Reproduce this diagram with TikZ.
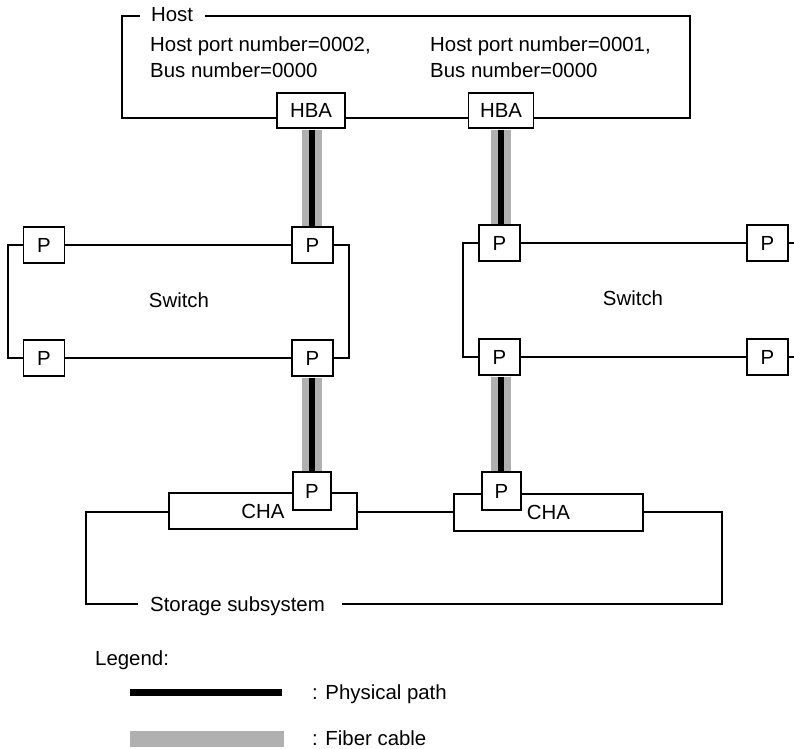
\documentclass[tikz,border=0pt]{standalone}
\usepackage{fontspec}
\setmainfont{Liberation Sans}
\definecolor{fiber}{RGB}{176,176,176}
\begin{document}
\begin{tikzpicture}[x=1pt,y=-1pt,
  txt/.style={font=\fontsize{20.4}{24}\selectfont, inner sep=0pt},
  frame/.style={line width=1.5pt},
  box/.style={draw, fill=white, line width=1.5pt, inner sep=0pt,
    font=\fontsize{20.4}{24}\selectfont},
  pbox/.style={box, minimum width=41pt, minimum height=36pt},
  fibre/.style={line width=20pt, draw=fiber},
  phys/.style={line width=6pt, draw=black}]
\useasboundingbox (0,0) rectangle (794,748);

% ---- Host ----
\node[txt] (host) at (172,15) {Host};
\node[txt, anchor=base west] (hp2) at (150,51) {Host port number=0002,};
\node[txt, anchor=base west] (bn2) at (150,77) {Bus number=0000};
\node[txt, anchor=base west] (hp1) at (430,51) {Host port number=0001,};
\node[txt, anchor=base west] (bn1) at (430,77) {Bus number=0000};
\coordinate (hA) at (311,118);
\coordinate (hB) at (501,118);
\draw[frame] (140,16) -- (122,16) -- (122,118) -- (hA) -- (hB)
  -- (690,118) -- (690,16) -- (205,16);
\node[box, minimum width=68pt, minimum height=35pt] (hba1) at (311,110.5) {HBA};
\node[box, minimum width=65pt, minimum height=35pt] (hba2) at (501,110.5) {HBA};

% ---- left switch ----
\node[pbox] (a1) at (44,245) {P};
\node[pbox] (a2) at (312.5,245) {P};
\node[pbox] (a3) at (44,358) {P};
\node[pbox] (a4) at (312.5,358) {P};
\draw[frame] (a1.west) -- (8,245) -- (8,358) -- (a3.west);
\draw[frame] (a1.east) -- (a2.west);
\draw[frame] (a3.east) -- (a4.west);
\draw[frame] (a2.east) -- (349,245) -- (349,358) -- (a4.east);
\node[txt] (sw1) at (179,300) {Switch};

% ---- right switch ----
\node[pbox] (b1) at (499.5,243) {P};
\node[pbox] (b2) at (767.5,243) {P};
\node[pbox] (b3) at (499.5,357) {P};
\node[pbox] (b4) at (767.5,357) {P};
\coordinate (e1) at (794,243);
\coordinate (e2) at (794,357);
\draw[frame] (b1.west) -- (463,243) -- (463,357) -- (b3.west);
\draw[frame] (b1.east) -- (b2.west);
\draw[frame] (b3.east) -- (b4.west);
\draw[frame] (b2.east) -- (e1);
\draw[frame] (b4.east) -- (e2);
\node[txt] (sw2) at (633,298) {Switch};

% ---- storage subsystem ----
\node[box, minimum width=188pt, minimum height=36pt] (cha1) at (263,511) {CHA};
\node[box, minimum width=189pt, minimum height=37pt] (cha2) at (548.5,512.5) {CHA};
\node[box, minimum width=38pt, minimum height=38pt] (c1) at (312,491) {P};
\node[box, minimum width=39pt, minimum height=38pt] (c2) at (501.5,491) {P};
\node[txt, anchor=base west] (stor) at (150,611) {Storage subsystem};
\coordinate (sl) at (138,604);
\coordinate (sr) at (342,604);
\draw[frame] (cha1.west |- 0,512) -- (86,512) -- (86,604) -- (sl);
\draw[frame] (cha1.east |- 0,512) -- (cha2.west |- 0,512);
\draw[frame] (cha2.east |- 0,512) -- (722,512) -- (722,604) -- (sr);

% ---- cables: fibre with the physical path along it ----
\draw[fibre] ([yshift=-0.75pt]hba1.south -| 311.5,0) -- ([yshift=0.75pt]a2.north -| 311.5,0);
\draw[phys]  ([yshift=-0.75pt]hba1.south -| 311.5,0) -- ([yshift=0.75pt]a2.north -| 311.5,0);
\draw[fibre] ([yshift=-0.75pt]a4.south -| 311.5,0) -- ([yshift=0.75pt]c1.north -| 311.5,0);
\draw[phys]  ([yshift=-0.75pt]a4.south -| 311.5,0) -- ([yshift=0.75pt]c1.north -| 311.5,0);
\draw[fibre] ([yshift=-0.75pt]hba2.south -| 501,0) -- ([yshift=0.75pt]b1.north -| 501,0);
\draw[phys]  ([yshift=-0.75pt]hba2.south -| 501,0) -- ([yshift=0.75pt]b1.north -| 501,0);
\draw[fibre] ([yshift=-0.75pt]b3.south -| 501,0) -- ([yshift=0.75pt]c2.north -| 501,0);
\draw[phys]  ([yshift=-0.75pt]b3.south -| 501,0) -- ([yshift=0.75pt]c2.north -| 501,0);

% ---- legend ----
\node[txt, anchor=base west] (leg) at (95,665) {Legend:};
\coordinate (l1a) at (130,692);
\coordinate (l1b) at (282,692);
\draw[line width=7pt] (l1a) -- (l1b);
\fill[fiber] (130,731) rectangle (284,747);
\node[txt, anchor=base west] (lp) at (312,699) {: Physical path};
\node[txt, anchor=base west] (lf) at (312,745) {: Fiber cable};
\end{tikzpicture}
\end{document}
